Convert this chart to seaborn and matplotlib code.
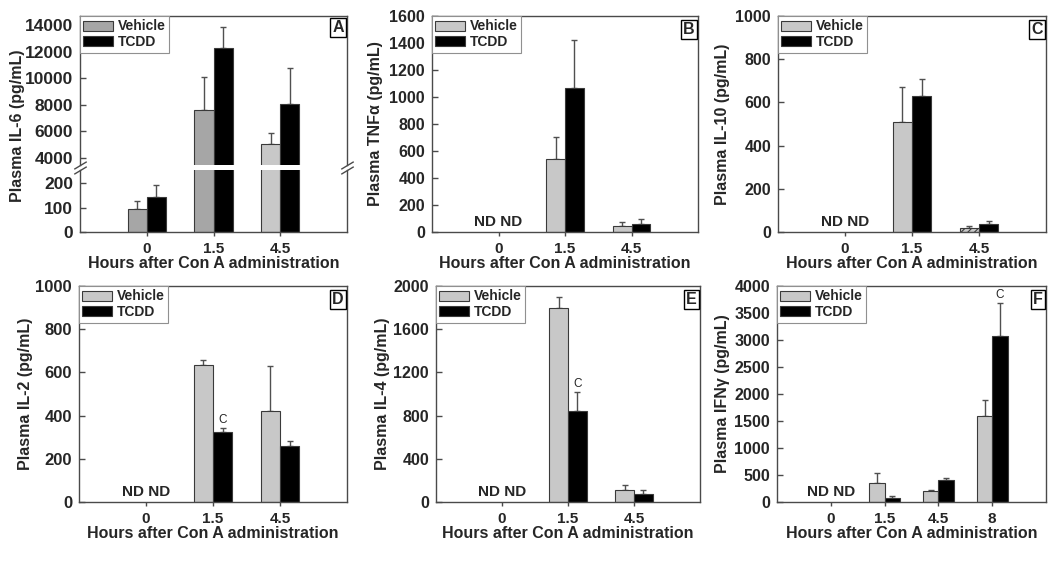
import numpy as np
import pandas as pd
import seaborn as sns
import matplotlib.pyplot as plt

# x categories (hours after Con A)
hours = ['0', '1.5', '4.5']
hours_f = ['0', '1.5', '4.5', '8']
groups = ['Vehicle', 'TCDD']

# A: IL-6
il6_veh = [96, 7625, 5000]
il6_veh_err = [31, 2450, 875]
il6_tcdd = [145, 12300, 8050]
il6_tcdd_err = [48, 1575, 2700]

# B: TNFa
tnf_veh = [np.nan, 542, 45]
tnf_veh_err = [np.nan, 160, 30]
tnf_tcdd = [np.nan, 1070, 62]
tnf_tcdd_err = [np.nan, 355, 33]

# C: IL-10
il10_veh = [np.nan, 510, 17]
il10_veh_err = [np.nan, 162, 11]
il10_tcdd = [np.nan, 630, 39]
il10_tcdd_err = [np.nan, 78, 11]

# D: IL-2
il2_veh = [np.nan, 634, 419]
il2_veh_err = [np.nan, 25, 212]
il2_tcdd = [np.nan, 324, 260]
il2_tcdd_err = [np.nan, 17, 22]

# E: IL-4
il4_veh = [np.nan, 1792, 108]
il4_veh_err = [np.nan, 103, 53]
il4_tcdd = [np.nan, 847, 78]
il4_tcdd_err = [np.nan, 167, 30]

# F: IFNg
ifn_veh = [np.nan, 360, 205, 1594]
ifn_veh_err = [np.nan, 186, 25, 292]
ifn_tcdd = [np.nan, 81, 409, 3071]
ifn_tcdd_err = [np.nan, 31, 44, 608]

LIGHT = '#c8c8c8'
DARK = '#a6a6a6'
EDGE = '#3a3a3a'
AXC = '#4a4a4a'

sns.set_style('white')
plt.rcParams['font.family'] = ['Liberation Sans', 'DejaVu Sans']
plt.rcParams['font.weight'] = 'bold'
plt.rcParams['axes.labelweight'] = 'bold'
plt.rcParams['hatch.linewidth'] = 0.8

W, H = 1050, 568
fig = plt.figure(figsize=(W / 100, H / 100), dpi=100)


def px_axes(x0, y0, x1, y1):
    return fig.add_axes([x0 / W, 1 - y1 / H, (x1 - x0) / W, (y1 - y0) / H])


def draw_panel(ax, hrs, veh, veh_err, tcdd, tcdd_err, veh_color=LIGHT, legend=True, marks=(),
               ysize=11.5):
    n = len(hrs)
    df = pd.DataFrame({
        'hours': hrs + hrs,
        'group': ['Vehicle'] * n + ['TCDD'] * n,
        'value': veh + tcdd,
        'err': veh_err + tcdd_err,
    }).dropna()
    sns.barplot(data=df, x='hours', y='value', hue='group', order=hrs, hue_order=groups,
                palette=[veh_color, 'black'], width=0.57, edgecolor=EDGE, linewidth=0.8,
                errorbar=None, legend=legend, ax=ax, zorder=2)
    bars = {}
    for bar in list(ax.patches):
        h = bar.get_height()
        row = df[np.isclose(df['value'], h)]
        if row.empty:
            continue
        r = row.iloc[0]
        bars[(r['hours'], r['group'])] = bar
        xc = bar.get_x() + bar.get_width() / 2
        ax.errorbar(xc, h, yerr=[[0], [r['err']]], fmt='none', ecolor='#505050',
                    elinewidth=1, capsize=2.2, capthick=1, zorder=1)
        if (r['hours'], r['group']) in marks:
            ax.annotate('C', (xc, h + r['err']), xytext=(0, 2), textcoords='offset points',
                        ha='center', va='bottom', fontsize=8.5, fontweight='normal')
    ax.set_xlim(-1, n)
    ax.set_xlabel('Hours after Con A administration', fontsize=11.5, labelpad=0)
    ax.set_ylabel('')
    ax.tick_params(axis='x', direction='out', length=3, width=1, color=AXC, pad=4, labelsize=11)
    ax.tick_params(axis='y', direction='in', length=4, width=1, color=AXC, pad=5,
                   labelsize=ysize)
    ax.tick_params(left=True, bottom=True)
    for s in ax.spines.values():
        s.set_visible(True)
        s.set_color(AXC)
        s.set_linewidth(1)
    if legend:
        sns.move_legend(ax, 'upper left', title=None, borderaxespad=0, frameon=True,
                        fancybox=False, edgecolor='#909090', framealpha=1, fontsize=10,
                        handlelength=2.1, handleheight=0.75, labelspacing=0.12,
                        borderpad=0.25, handletextpad=0.35)
        ax.get_legend().get_frame().set_linewidth(0.8)
    return bars


def letter(ax, s):
    ax.text(0.988, 0.972, s, transform=ax.transAxes, ha='right', va='top', fontsize=11.5,
            zorder=5, bbox=dict(boxstyle='square,pad=0.12', fc='white', ec='black', lw=1))


def nd(ax):
    ax.text(0, 0.012, 'ND ND', transform=ax.get_xaxis_transform(), ha='center',
            va='bottom', fontsize=11)


def ylab(ax, text, off=48):
    ax.set_ylabel(text, fontsize=11.5)
    bb = ax.get_position()
    ax.yaxis.set_label_coords(-off / (bb.width * W), 0.5)


# ---- A (broken axis) ----
ax_a_top = px_axes(80, 16, 347, 165)
ax_a_bot = px_axes(80, 170, 347, 232)
b_top = draw_panel(ax_a_top, hours, il6_veh, il6_veh_err, il6_tcdd, il6_tcdd_err,
                   veh_color=DARK, ysize=12.5)
b_bot = draw_panel(ax_a_bot, hours, il6_veh, il6_veh_err, il6_tcdd, il6_tcdd_err,
                   veh_color=DARK, legend=False, ysize=12.5)
for b in (b_top, b_bot):
    b[('4.5', 'Vehicle')].set_facecolor(LIGHT)
ax_a_top.set_ylim(3450, 14700)
ax_a_top.set_yticks([4000, 6000, 8000, 10000, 12000, 14000])
ax_a_top.spines['bottom'].set_visible(False)
ax_a_top.tick_params(axis='x', bottom=False, labelbottom=False)
ax_a_top.set_xlabel('')
ax_a_bot.set_ylim(0, 255)
ax_a_bot.set_yticks([0, 100, 200])
ax_a_bot.spines['top'].set_visible(False)
letter(ax_a_top, 'A')
fig.text(18 / W, 1 - 126 / H, 'Plasma IL-6 (pg/mL)', rotation=90, ha='center', va='center',
         fontsize=11.5)
kw = dict(marker=[(-1, -0.6), (1, 0.6)], markersize=9, linestyle='none', color=AXC,
          mec=AXC, mew=1, clip_on=False)
ax_a_top.plot([0, 1], [0, 0], transform=ax_a_top.transAxes, **kw)
ax_a_bot.plot([0, 1], [1, 1], transform=ax_a_bot.transAxes, **kw)

# ---- B ----
ax_b = px_axes(432, 16, 698, 232)
draw_panel(ax_b, hours, tnf_veh, tnf_veh_err, tnf_tcdd, tnf_tcdd_err)
ax_b.set_ylim(0, 1600)
ax_b.set_yticks(range(0, 1601, 200))
ylab(ax_b, 'Plasma TNF\u03b1 (pg/mL)', 49)
letter(ax_b, 'B')
nd(ax_b)

# ---- C ----
ax_c = px_axes(778, 16, 1046, 232)
bc = draw_panel(ax_c, hours, il10_veh, il10_veh_err, il10_tcdd, il10_tcdd_err)
bc[('4.5', 'Vehicle')].set_hatch('/////')
ax_c.set_ylim(0, 1000)
ax_c.set_yticks(range(0, 1001, 200))
ylab(ax_c, 'Plasma IL-10 (pg/mL)', 48)
letter(ax_c, 'C')
nd(ax_c)

# ---- D ----
ax_d = px_axes(79, 286, 347, 502)
draw_panel(ax_d, hours, il2_veh, il2_veh_err, il2_tcdd, il2_tcdd_err, marks=[('1.5', 'TCDD')],
           ysize=12)
ax_d.set_ylim(0, 1000)
ax_d.set_yticks(range(0, 1001, 200))
ylab(ax_d, 'Plasma IL-2 (pg/mL)', 46)
letter(ax_d, 'D')
nd(ax_d)

# ---- E ----
ax_e = px_axes(436, 286, 700, 502)
draw_panel(ax_e, hours, il4_veh, il4_veh_err, il4_tcdd, il4_tcdd_err, marks=[('1.5', 'TCDD')])
ax_e.set_ylim(0, 2000)
ax_e.set_yticks(range(0, 2001, 400))
ylab(ax_e, 'Plasma IL-4 (pg/mL)', 46)
letter(ax_e, 'E')
nd(ax_e)

# ---- F ----
ax_f = px_axes(777, 286, 1046, 502)
draw_panel(ax_f, hours_f, ifn_veh, ifn_veh_err, ifn_tcdd, ifn_tcdd_err, marks=[('8', 'TCDD')])
ax_f.set_ylim(0, 4000)
ax_f.set_yticks(range(0, 4001, 500))
ylab(ax_f, 'Plasma IFN\u03b3 (pg/mL)', 47)
letter(ax_f, 'F')
nd(ax_f)

fig.savefig('out.png', dpi=100)
